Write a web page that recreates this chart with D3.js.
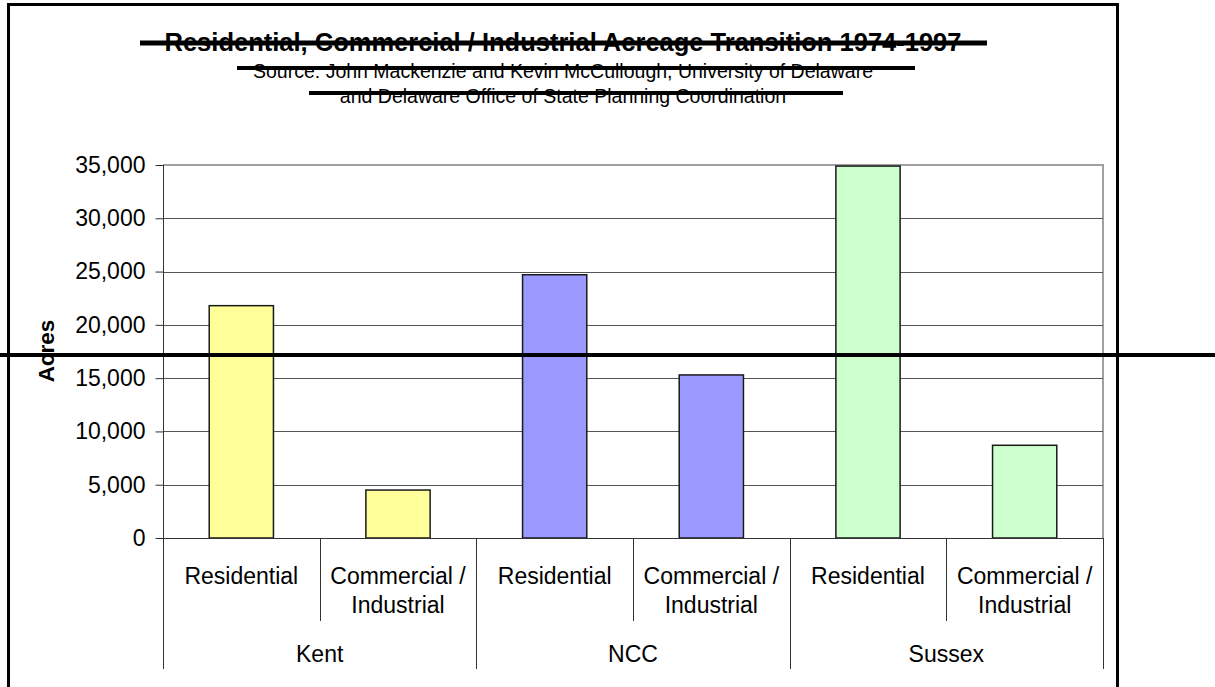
<!DOCTYPE html>
<html>
<head>
<meta charset="utf-8">
<script src="https://cdn.jsdelivr.net/npm/d3@7"></script>
<style>
  html, body { margin: 0; padding: 0; background: #fff; }
  svg { display: block; font-family: "Liberation Sans", Arial, sans-serif; }
</style>
</head>
<body>
<svg id="chart" width="1215" height="687"></svg>
<script>
// ---- data ----
const counties = ["Kent", "NCC", "Sussex"];
const landUses = ["Residential", "Commercial / Industrial"];
const landUseLabelLines = [["Residential"], ["Commercial /", "Industrial"]];
const residentialAcres = [21800, 24700, 34900];
const commercialAcres = [4500, 15300, 8700];
const countyColors = ["#FFFF99", "#9999FF", "#CCFFCC"];
const yTicks = [0, 5000, 10000, 15000, 20000, 25000, 30000, 35000];
const titleText = "Residential, Commercial / Industrial Acreage Transition 1974-1997";
const subtitleLines = [
  "Source: John Mackenzie and Kevin McCullough, University of Delaware",
  "and Delaware Office of State Planning Coordination"
];
const yAxisTitle = "Acres";

// ---- layout ----
const W = 1215, H = 687;
const plot = { left: 163, right: 1103, top: 165, bottom: 538 };
const svg = d3.select("#chart");

const rows = [];
counties.forEach((c, i) => {
  rows.push({ county: c, use: landUses[0], lines: landUseLabelLines[0], value: residentialAcres[i], color: countyColors[i] });
  rows.push({ county: c, use: landUses[1], lines: landUseLabelLines[1], value: commercialAcres[i], color: countyColors[i] });
});

const x0 = d3.scaleBand().domain(counties).range([plot.left, plot.right]).padding(0);
const x1 = d3.scaleBand().domain(landUses).range([0, x0.bandwidth()]).padding(0);
const y = d3.scaleLinear().domain([0, 35000]).range([plot.bottom, plot.top]);
const barW = x1.bandwidth() * 0.41;

// outer border
svg.append("path")
  .attr("d", `M8.5,${H} L8.5,4.5 L1117.5,4.5 L1117.5,${H}`)
  .attr("fill", "none").attr("stroke", "#000").attr("stroke-width", 3);

// plot-area border (top/right, grey)
svg.append("path")
  .attr("d", `M${plot.left},${plot.top} L${plot.right},${plot.top} L${plot.right},${plot.bottom}`)
  .attr("fill", "none").attr("stroke", "#a0a0a0").attr("stroke-width", 2);

// gridlines
svg.append("g").selectAll("line").data(yTicks.filter(t => t > 0 && t < 35000)).join("line")
  .attr("x1", plot.left).attr("x2", plot.right)
  .attr("y1", d => Math.round(y(d)) + 0.5).attr("y2", d => Math.round(y(d)) + 0.5)
  .attr("stroke", "#555").attr("stroke-width", 1);

// y axis
const yAxis = d3.axisLeft(y).tickValues(yTicks).tickSize(8).tickPadding(10)
  .tickFormat(d3.format(","));
const gy = svg.append("g").attr("transform", `translate(${plot.left + 0.5},0)`).call(yAxis);
gy.select(".domain").remove();
gy.selectAll(".tick line").attr("stroke", "#333");
gy.selectAll(".tick text").attr("font-size", 23).attr("fill", "#000")
  .attr("font-family", '"Liberation Sans", Arial, sans-serif');

// bars
svg.append("g").selectAll("rect").data(rows).join("rect")
  .attr("x", d => x0(d.county) + x1(d.use) + (x1.bandwidth() - barW) / 2)
  .attr("y", d => y(d.value))
  .attr("width", barW)
  .attr("height", d => y(0) - y(d.value))
  .attr("fill", d => d.color)
  .attr("stroke", "#1a1a1a").attr("stroke-width", 1.5);

// axis lines
svg.append("line").attr("x1", plot.left + 0.5).attr("x2", plot.left + 0.5)
  .attr("y1", plot.top).attr("y2", plot.bottom).attr("stroke", "#333");
svg.append("line").attr("x1", plot.left).attr("x2", plot.right)
  .attr("y1", plot.bottom + 0.5).attr("y2", plot.bottom + 0.5).attr("stroke", "#333");

// category separators
const sepG = svg.append("g").attr("stroke", "#333").attr("stroke-width", 1);
counties.forEach(c => {
  const xs = x0(c);
  sepG.append("line").attr("x1", Math.round(xs) + 0.5).attr("x2", Math.round(xs) + 0.5)
    .attr("y1", plot.bottom).attr("y2", 669);
  const xm = xs + x1(landUses[1]);
  sepG.append("line").attr("x1", Math.round(xm) + 0.5).attr("x2", Math.round(xm) + 0.5)
    .attr("y1", plot.bottom).attr("y2", 621);
});
sepG.append("line").attr("x1", plot.right + 0.5).attr("x2", plot.right + 0.5)
  .attr("y1", plot.bottom).attr("y2", 669);

// category labels
const catG = svg.append("g").attr("font-size", 23).attr("text-anchor", "middle").attr("fill", "#000");
rows.forEach(d => {
  const cx = x0(d.county) + x1(d.use) + x1.bandwidth() / 2;
  const t = catG.append("text").attr("x", cx).attr("y", 584);
  d.lines.forEach((ln, i) => {
    t.append("tspan").attr("x", cx).attr("dy", i === 0 ? 0 : 29).text(ln);
  });
});
counties.forEach(c => {
  catG.append("text").attr("x", x0(c) + x0.bandwidth() / 2).attr("y", 662).text(c);
});

// y axis title
svg.append("text")
  .attr("transform", `translate(54,351) rotate(-90)`)
  .attr("text-anchor", "middle").attr("font-size", 22.5).attr("font-weight", "bold")
  .text(yAxisTitle);

// titles
const cx = 563;
svg.append("text").attr("x", cx).attr("y", 51).attr("text-anchor", "middle")
  .attr("font-size", 25.5).attr("font-weight", "bold").text(titleText);
subtitleLines.forEach((s, i) => {
  svg.append("text").attr("x", cx).attr("y", 78 + i * 25).attr("text-anchor", "middle")
    .attr("font-size", 19.5).text(s);
});

// strike lines over titles
const strikes = [
  { x1: 140, x2: 987, y: 43, w: 5 },
  { x1: 237, x2: 915, y: 68, w: 4 },
  { x1: 309, x2: 843, y: 93, w: 4 }
];
svg.append("g").selectAll("line").data(strikes).join("line")
  .attr("x1", d => d.x1).attr("x2", d => d.x2).attr("y1", d => d.y).attr("y2", d => d.y)
  .attr("stroke", "#000").attr("stroke-width", d => d.w);

// full-width horizontal rule
svg.append("line").attr("x1", 0).attr("x2", W).attr("y1", 355).attr("y2", 355)
  .attr("stroke", "#000").attr("stroke-width", 4);
</script>
</body>
</html>
